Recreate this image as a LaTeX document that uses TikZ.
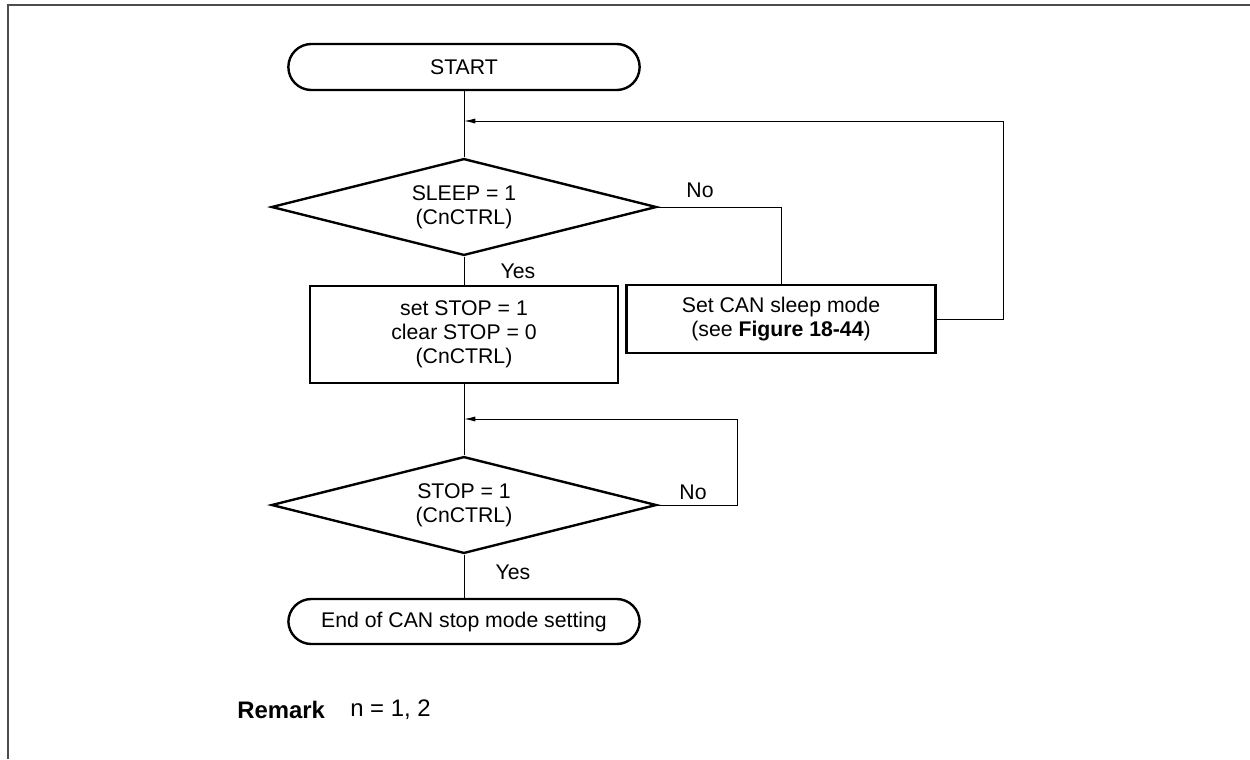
\documentclass[tikz,border=0pt]{standalone}
\usepackage{fontspec}
\setmainfont{Liberation Sans}
\usetikzlibrary{arrows.meta,shapes.geometric}
\tikzset{
  font=\fontsize{15.1}{17.2}\selectfont,
  frame/.style={draw=black!70, line width=1.3pt},
  line/.style={draw=black, line width=0.7pt},
  arrow/.style={-{Latex[length=8pt,width=3.6pt]}, draw=black, line width=0.7pt},
  terminal/.style={rectangle, rounded corners=0.575cm, draw=black, line width=1.7pt, minimum width=8.78cm, minimum height=1.15cm, align=center, inner sep=2pt},
  decision/.style={diamond, aspect=4, draw=black, line width=1.7pt, minimum width=9.625cm, minimum height=2.42cm, align=center, inner sep=0pt},
  process/.style={rectangle, draw=black, line width=1.7pt, minimum width=7.7cm, align=center, inner sep=2pt},
  flowLabel/.style={inner sep=0pt},
  remarkLabel/.style={inner sep=0pt, anchor=west, font=\fontsize{17}{19}\selectfont}
}

\begin{document}
\begin{tikzpicture}[x=0.025cm,y=-0.025cm]
\useasboundingbox (0,0) rectangle (1250,759);

% --------------------------------------------------------------------------
% Frame
% --------------------------------------------------------------------------
\draw[frame] (8,759) -- (8,5) -- (1250,5);

% --------------------------------------------------------------------------
% Main column
% --------------------------------------------------------------------------
\node[terminal] (start) at (464,67) {START};
\node[decision] (sleep) at (464,207) {SLEEP = 1\\(CnCTRL)};
\node[process, minimum height=2.425cm] (stopSet) at (464,334.5) {set STOP = 1\\clear STOP = 0\\(CnCTRL)};
\node[decision] (stop) at (464,505) {STOP = 1\\(CnCTRL)};
\node[terminal, minimum height=1.125cm] (finish) at (464,621.5) {End of CAN stop mode setting};

\node[process, minimum width=7.725cm, minimum height=1.7cm] (sleepMode) at (781,319) {Set CAN sleep mode\\(see \textbf{Figure 18-44})};

\coordinate (sleepJoin) at (464,121);
\coordinate (sleepTop) at (1003,121);
\coordinate (stopJoin) at (464,419);
\coordinate (stopTop) at (737,419);

\draw[line] (start.south) -- (sleep.north);
\draw[line] (sleep.south) -- (stopSet.north);
\draw[line] (stopSet.south) -- (stop.north);
\draw[line] (stop.south) -- (finish.north);

\draw[line] (sleep.east) -| (sleepMode.north);
\draw[arrow] (sleepMode.east) -| (sleepTop) -- (sleepJoin);
\draw[arrow] (stop.east) -| (stopTop) -- (stopJoin);

\node[flowLabel] (sleepNo) at (700,190) {No};
\node[flowLabel] (sleepYes) at (518,271) {Yes};
\node[flowLabel] (stopNo) at (693,492) {No};
\node[flowLabel] (stopYes) at (513,572) {Yes};

% --------------------------------------------------------------------------
% Remark
% --------------------------------------------------------------------------
\node[remarkLabel] (remark) at (237,710) {\textbf{Remark}};
\node[remarkLabel] (remarkValue) at (350,710) {n = 1, 2};

\end{tikzpicture}
\end{document}
